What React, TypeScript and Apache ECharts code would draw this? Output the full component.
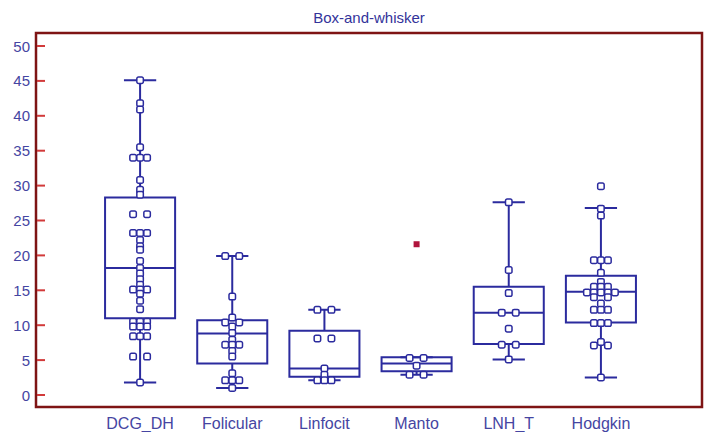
import React, { useEffect, useRef } from "react";
import * as echarts from "echarts";

const categories = ["DCG_DH", "Folicular", "Linfocit", "Manto", "LNH_T", "Hodgkin"];
const yTicks = [0, 5, 10, 15, 20, 25, 30, 35, 40, 45, 50];

const whiskerLow = [1.8, 1.0, 2.1, 2.9, 5.1, 2.5];
const quartile1 = [11.0, 4.5, 2.6, 3.4, 7.3, 10.4];
const medians = [18.2, 8.8, 3.8, 4.5, 11.8, 14.8];
const quartile3 = [28.3, 10.7, 9.2, 5.4, 15.5, 17.1];
const whiskerHigh = [45.1, 19.9, 12.2, 5.4, 27.6, 26.8];

const obsDCG = [45.1, 41.8, 40.9, 35.5, 34.0, 34.0, 34.0, 30.8, 29.4, 28.7, 25.9, 25.9, 23.2, 23.2, 23.2, 22.2, 21.3, 20.8, 19.2, 18.2, 17.4, 16.6, 15.8, 15.1, 15.1, 15.1, 14.5, 13.5, 12.3, 10.5, 10.5, 10.5, 9.8, 9.8, 9.8, 8.4, 8.4, 8.4, 5.5, 5.5, 1.8];
const obsFolicular = [19.9, 19.9, 14.1, 11.1, 10.4, 10.4, 9.8, 8.9, 7.9, 7.2, 7.2, 7.2, 6.3, 5.5, 3.1, 2.1, 2.1, 2.1, 1.0];
const obsLinfocit = [12.2, 12.2, 8.1, 8.1, 3.8, 2.9, 2.1, 2.1, 2.1];
const obsManto = [5.3, 5.3, 4.2, 2.9, 2.9];
const obsLNH = [27.6, 17.9, 14.6, 11.8, 11.8, 9.5, 7.2, 7.2, 5.1];
const obsHodgkin = [29.9, 26.7, 25.7, 19.3, 19.3, 19.3, 17.5, 16.2, 15.5, 15.5, 15.5, 14.7, 14.7, 14.7, 14.7, 14.7, 14.0, 14.0, 13.1, 12.2, 12.2, 12.2, 10.3, 10.3, 10.3, 7.6, 7.1, 7.1, 2.5];
const observations = [obsDCG, obsFolicular, obsLinfocit, obsManto, obsLNH, obsHodgkin];

const outlierCategory = [3];
const outlierValue = [21.6];

const NAVY = "#2b2b9e";
const LABEL = "#4545a2";
const FRAME = "#7e1414";
const TICK = "#d23a3a";
const JITTER = 0.076;
const FONT = "Liberation Sans, Arial, sans-serif";

function jitterPoints(): number[][] {
  const pts: number[][] = [];
  observations.forEach((vals, ci) => {
    const counts = new Map<number, number>();
    vals.forEach((v) => counts.set(v, (counts.get(v) || 0) + 1));
    counts.forEach((n, v) => {
      const offs: number[] = [];
      if (n % 2 === 1) {
        for (let k = 0; k < n; k++) offs.push(k - (n - 1) / 2);
      } else {
        for (let k = 1; k <= n / 2; k++) offs.push(-k, k);
      }
      offs.forEach((o) => pts.push([ci + o * JITTER, v]));
    });
  });
  return pts;
}

export default function App() {
  const ref = useRef<HTMLDivElement>(null);
  useEffect(() => {
    document.body.style.margin = "0";
    const chart = echarts.init(ref.current!, null, { renderer: "svg" });
    const boxData = categories.map((_, i) => [i, whiskerLow[i], quartile1[i], medians[i], quartile3[i], whiskerHigh[i]]);
    const option: any = {
      animation: false,
      backgroundColor: "#ffffff",
      grid: [
        { left: 94, right: 57, top: 46, bottom: 37 },
        { left: 36, right: 2, top: 46, bottom: 37 },
      ],
      xAxis: [
        {
          type: "category",
          gridIndex: 0,
          data: categories,
          axisLine: { show: false },
          axisTick: { show: false },
          axisLabel: { color: LABEL, fontSize: 16, margin: 20, fontFamily: FONT },
        },
        { type: "value", gridIndex: 0, min: -0.5, max: 5.5, show: false },
        { type: "value", gridIndex: 1, min: 0, max: 1, show: false },
      ],
      yAxis: [
        { type: "value", gridIndex: 0, min: 0, max: 50, interval: 5, show: false },
        {
          type: "value",
          gridIndex: 1,
          min: 0,
          max: 50,
          interval: 5,
          axisLine: { show: false, onZero: false },
          splitLine: { show: false },
          axisTick: { show: false },
          axisLabel: { color: LABEL, fontSize: 15, margin: 6, fontFamily: FONT },
        },
      ],
      graphic: [
        {
          type: "rect",
          shape: { x: 36, y: 33, width: 666, height: 374 },
          style: { fill: "none", stroke: FRAME, lineWidth: 2.5 },
          z: 1,
        },
        {
          type: "text",
          x: 369,
          y: 17,
          style: {
            text: "Box-and-whisker",
            fill: "#33339a",
            font: "15px " + FONT,
            textAlign: "center",
            textVerticalAlign: "middle",
          },
        },
      ],
      series: [
        {
          type: "custom",
          name: "yTicks",
          xAxisIndex: 2,
          yAxisIndex: 1,
          data: yTicks.map((v) => [0, v]),
          encode: { x: 0, y: 1 },
          silent: true,
          z: 4,
          renderItem: (params: any, api: any) => {
            const p = api.coord([0, api.value(1)]);
            return {
              type: "line",
              shape: { x1: p[0] + 1, y1: p[1], x2: p[0] + 9, y2: p[1] },
              style: { stroke: TICK, lineWidth: 2 },
            };
          },
        },
        {
          type: "custom",
          xAxisIndex: 0,
          yAxisIndex: 0,
          data: boxData,
          encode: { x: 0, y: [1, 2, 3, 4, 5] },
          z: 2,
          renderItem: (params: any, api: any) => {
            const idx = api.value(0);
            const pLow = api.coord([idx, api.value(1)]);
            const pQ1 = api.coord([idx, api.value(2)]);
            const pMed = api.coord([idx, api.value(3)]);
            const pQ3 = api.coord([idx, api.value(4)]);
            const pHigh = api.coord([idx, api.value(5)]);
            const band = api.size([1, 0])[0];
            const bh = band * 0.38;
            const ch = band * 0.175;
            const cx = pMed[0];
            const ls = { stroke: NAVY, lineWidth: 2, fill: "none" };
            return {
              type: "group",
              children: [
                { type: "line", shape: { x1: cx, y1: pQ3[1], x2: cx, y2: pHigh[1] }, style: ls },
                { type: "line", shape: { x1: cx, y1: pQ1[1], x2: cx, y2: pLow[1] }, style: ls },
                { type: "line", shape: { x1: cx - ch, y1: pHigh[1], x2: cx + ch, y2: pHigh[1] }, style: ls },
                { type: "line", shape: { x1: cx - ch, y1: pLow[1], x2: cx + ch, y2: pLow[1] }, style: ls },
                { type: "rect", shape: { x: cx - bh, y: pQ3[1], width: 2 * bh, height: pQ1[1] - pQ3[1] }, style: ls },
                { type: "line", shape: { x1: cx - bh, y1: pMed[1], x2: cx + bh, y2: pMed[1] }, style: ls },
              ],
            };
          },
        },
        {
          type: "scatter",
          xAxisIndex: 1,
          yAxisIndex: 0,
          data: jitterPoints(),
          symbol: "roundRect",
          symbolSize: 6.5,
          itemStyle: { color: "#ffffff", borderColor: NAVY, borderWidth: 1.5, opacity: 1 },
          z: 3,
        },
        {
          type: "scatter",
          xAxisIndex: 1,
          yAxisIndex: 0,
          data: outlierCategory.map((c, i) => [c, outlierValue[i]]),
          symbol: "rect",
          symbolSize: 6,
          itemStyle: { color: "#b0143c", opacity: 1 },
          z: 3,
        },
      ],
    };
    chart.setOption(option);
    return () => chart.dispose();
  }, []);
  return <div ref={ref} style={{ position: "absolute", left: 0, top: 0, width: 704, height: 432 }} />;
}
